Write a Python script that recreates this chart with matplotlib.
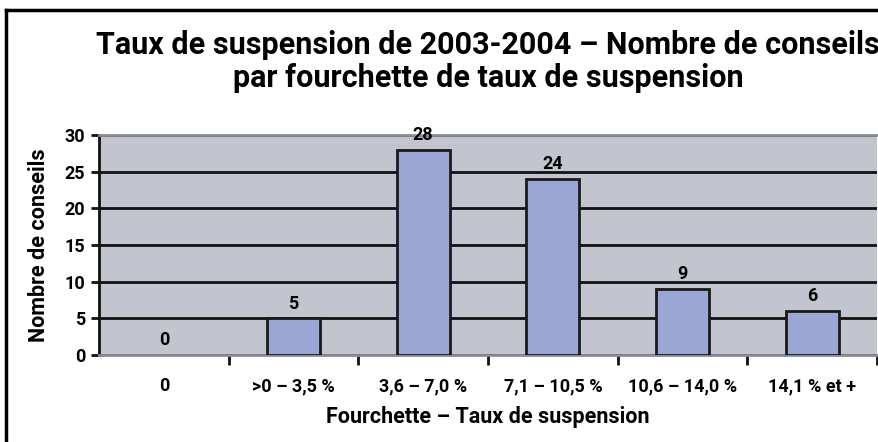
import matplotlib
matplotlib.use("Agg")
import matplotlib.pyplot as plt
from matplotlib.lines import Line2D

# données
categories = ["0", ">0 – 3,5 %", "3,6 – 7,0 %", "7,1 – 10,5 %", "10,6 – 14,0 %", "14,1 % et +"]
nb_conseils = [0, 5, 28, 24, 9, 6]
y_ticks = [0, 5, 10, 15, 20, 25, 30]

plt.rcParams['font.family'] = ['Roboto', 'DejaVu Sans']
plt.rcParams['font.weight'] = 'bold'

fig = plt.figure(figsize=(8.79, 4.42), dpi=100)
ax = fig.add_axes([99 / 879, 1 - 355 / 442, 778 / 879, 220 / 442])

x = list(range(len(categories)))
ax.set_facecolor('#c2c5cd')
ax.bar(x, nb_conseils, width=0.41, color='#9aa6d4', edgecolor='#1a1a1a',
       linewidth=[2 if v > 0 else 0 for v in nb_conseils], zorder=3)

for xi, v in zip(x, nb_conseils):
    ax.annotate(str(v), (xi, v), xytext=(0, 4), textcoords='offset points',
                ha='center', va='bottom', fontsize=13, fontweight='bold')

ax.set_xlim(-0.5, len(categories) - 0.5)
ax.set_ylim(0, 30)
ax.set_yticks(y_ticks)
ax.yaxis.grid(True, color='#111111', linewidth=2, zorder=1)
ax.set_axisbelow(True)

ax.set_xticks(x)
ax.set_xticklabels(categories, fontsize=13, fontweight='bold')
ax.set_xticks([i + 0.5 for i in x], minor=True)
ax.tick_params(axis='x', which='major', length=0, pad=16)
ax.tick_params(axis='x', which='minor', length=7, width=2, color='#111111', direction='out')
ax.tick_params(axis='y', length=6, width=2, color='#111111', labelsize=13, pad=4)
for lab in ax.get_yticklabels():
    lab.set_fontweight('bold')

ax.spines['left'].set_color('#111111')
ax.spines['left'].set_linewidth(2)
ax.spines['bottom'].set_color('#8a8d93')
ax.spines['bottom'].set_linewidth(2)
ax.spines['top'].set_color('#8a8d93')
ax.spines['top'].set_linewidth(2)
ax.spines['right'].set_visible(False)

ax.set_ylabel("Nombre de conseils", fontsize=15.5, fontweight='bold', labelpad=10)
ax.set_xlabel("Fourchette – Taux de suspension", fontsize=15.5, fontweight='bold', labelpad=8)

fig.text(488 / 879, 1 - 45 / 442, "Taux de suspension de 2003-2004 – Nombre de conseils",
         ha='center', va='center', fontsize=22, fontweight='bold')
fig.text(488 / 879, 1 - 78 / 442, "par fourchette de taux de suspension",
         ha='center', va='center', fontsize=22, fontweight='bold')

# cadre
fig.add_artist(Line2D([6.5 / 879, 6.5 / 879], [0, 1 - 10 / 442], transform=fig.transFigure,
                      color='black', linewidth=2.5))
fig.add_artist(Line2D([6.5 / 879, 1], [1 - 10 / 442, 1 - 10 / 442], transform=fig.transFigure,
                      color='black', linewidth=2.5))

fig.savefig("out.png", dpi=100)
